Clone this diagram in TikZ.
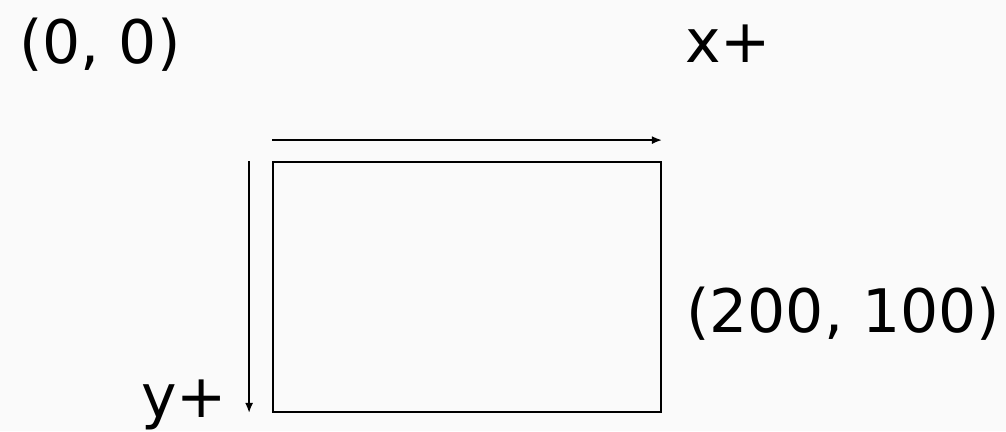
\documentclass[tikz,border=0pt]{standalone}
\usepackage{fontspec}
\setmainfont{DejaVu Sans}
\usetikzlibrary{arrows.meta,positioning,calc}

\begin{document}
\begin{tikzpicture}[x=1pt, y=-1pt,
    every node/.style={font=\fontsize{60}{72}\selectfont, inner sep=0pt, anchor=base west},
    axis/.style={line width=1.6pt, -{Latex[length=10pt,width=8pt]}}]
  \fill[black!2] (0,0) rectangle (1006,431);
  \useasboundingbox (0,0) rectangle (1006,431);

  \node (origin) at (19,63) {(0, 0)};
  \node (xlab) at (685,62) {x+};
  \node (corner) at (686,332) {(200, 100)};
  \node (ylab) at (141,417) {y+};

  \node[draw, line width=1.8pt, anchor=center, minimum width=388pt, minimum height=250pt] (box) at (467,287) {};

  \coordinate (xfrom) at ($(box.north west)+(0,-21)$);
  \coordinate (xto) at ($(box.north east)+(0,-21)$);
  \coordinate (yfrom) at ($(box.north west)+(-23,0)$);
  \coordinate (yto) at ($(box.south west)+(-23,0)$);
  \draw[axis] (xfrom) -- (xto);
  \draw[axis] (yfrom) -- (yto);
\end{tikzpicture}
\end{document}
